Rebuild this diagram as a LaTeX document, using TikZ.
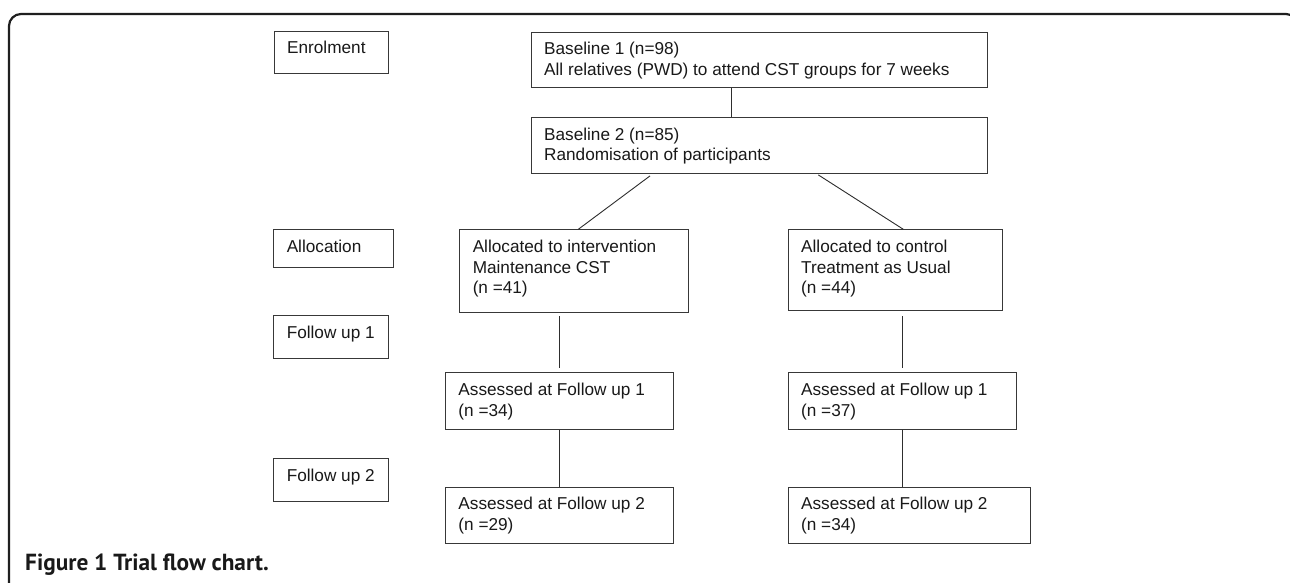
\documentclass[tikz,border=0pt]{standalone}
\usepackage{fontspec}
\setmainfont{Liberation Sans}
\newfontfamily\capfont{PT Sans}
\tikzset{
  bx/.style={draw=black!78, line width=0.9pt, inner sep=0pt, anchor=north west,
    font=\fontsize{17.2}{20.6}\selectfont, text=black!90},
  ln/.style={draw=black!82, line width=0.9pt},
  framestyle/.style={draw=black!88, line width=2.2pt, rounded corners=12pt}
}
\newcommand\bt[3]{\hspace*{13pt}\parbox[t][#2][t]{\dimexpr#1-13pt\relax}{\raggedright\vspace*{8.3pt}\strut #3}}
\begin{document}
\begin{tikzpicture}[x=1pt,y=-1pt]
\useasboundingbox (0,0) rectangle (1290,583);
\clip (0,0) rectangle (1290,583);
\fill[white] (0,0) rectangle (1290,583);
\draw[framestyle] (9,600) -- (9,14) -- (1298,14) -- (1298,600);

% stage labels
\node[bx] (enrol) at (273.7,30.7) {\bt{114.3pt}{42.6pt}{Enrolment}};
\node[bx] (alloc) at (273.3,229.3) {\bt{120pt}{37.4pt}{Allocation}};
\node[bx] (fu1) at (273.3,315.3) {\bt{115pt}{42.7pt}{Follow up 1}};
\node[bx] (fu2) at (273.3,458) {\bt{115pt}{42.7pt}{Follow up 2}};

% main boxes
\node[bx] (b1) at (530.7,31.7) {\bt{456.6pt}{55.6pt}{Baseline 1 (n=98)\\All relatives (PWD) to attend CST groups for 7 weeks}};
\node[bx] (b2) at (530.7,117) {\bt{456.6pt}{56pt}{Baseline 2 (n=85)\\Randomisation of participants}};
\node[bx] (int) at (459.3,229.3) {\bt{228.4pt}{82.4pt}{Allocated to intervention\\Maintenance CST\\(n =41)}};
\node[bx] (ctl) at (787.7,229.3) {\bt{214.3pt}{80.4pt}{Allocated to control\\Treatment as Usual\\(n =44)}};
\node[bx] (a1L) at (445,372.3) {\bt{228.3pt}{56.7pt}{Assessed at Follow up 1\\(n =34)}};
\node[bx] (a2L) at (445,486.7) {\bt{228.3pt}{56.3pt}{Assessed at Follow up 2\\(n =29)}};
\node[bx] (a1R) at (787.7,372.3) {\bt{228.3pt}{56.7pt}{Assessed at Follow up 1\\(n =37)}};
\node[bx] (a2R) at (787.7,486.7) {\bt{242.6pt}{56.3pt}{Assessed at Follow up 2\\(n =34)}};

% connectors
\draw[ln] ([xshift=200.3pt]b1.south west) -- ([xshift=200.3pt]b2.north west);
\draw[ln] ([xshift=119.3pt,yshift=-2pt]b2.south west) -- ([xshift=119pt]int.north west);
\draw[ln] ([xshift=287.6pt,yshift=-1pt]b2.south west) -- ([xshift=115.6pt]ctl.north west);
\draw[ln] ([xshift=100.4pt,yshift=-3.6pt]int.south west) -- ([xshift=114.7pt,yshift=4.6pt]a1L.north west);
\draw[ln] ([xshift=115pt,yshift=-5.6pt]ctl.south west) -- ([xshift=115pt,yshift=4.6pt]a1R.north west);
\draw[ln] ([xshift=114.7pt]a1L.south west) -- ([xshift=114.7pt]a2L.north west);
\draw[ln] ([xshift=115pt]a1R.south west) -- ([xshift=115pt]a2R.north west);

% caption
\node[anchor=base west, inner sep=0pt, text=black!90,
  font=\capfont\bfseries\fontsize{23.3}{26}\selectfont] (cap) at (25,570.7) {Figure 1 Trial flow chart.};
\end{tikzpicture}
\end{document}
